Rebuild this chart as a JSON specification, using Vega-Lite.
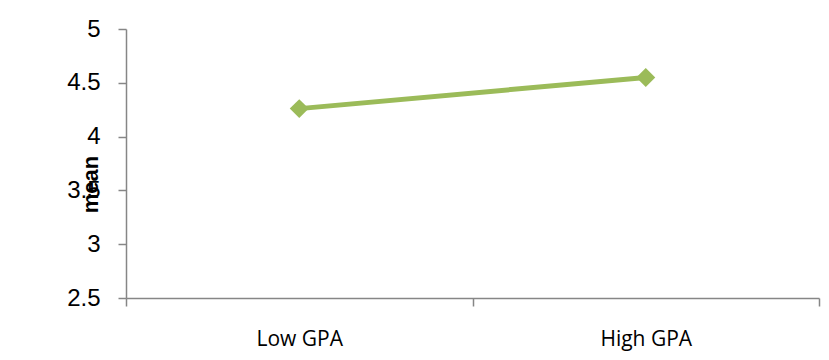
{
  "$schema": "https://vega.github.io/schema/vega-lite/v6.json",
  "width": 693,
  "height": 269,
  "autosize": "none",
  "padding": {"left": 126, "top": 29, "right": 10, "bottom": 62},
  "background": "white",
  "config": {"view": {"stroke": null}},
  "data": {"values": [
    {"group": "Low GPA", "mean": 4.26},
    {"group": "High GPA", "mean": 4.55}
  ]},
  "encoding": {
    "x": {
      "field": "group", "type": "nominal", "sort": ["Low GPA", "High GPA"],
      "scale": {"type": "band", "paddingInner": 0, "paddingOuter": 0},
      "axis": {
        "title": null, "labelAngle": 0, "tickBand": "extent",
        "domainColor": "#868686", "tickColor": "#868686", "domainWidth": 1.5, "tickWidth": 1.5,
        "tickSize": 8, "labelPadding": 22, "labelFont": "Open Sans", "labelFontSize": 21,
        "labelColor": "#000000", "grid": false
      }
    },
    "y": {
      "field": "mean", "type": "quantitative",
      "scale": {"domain": [2.5, 5], "nice": false, "zero": false},
      "axis": {
        "values": [2.5, 3, 3.5, 4, 4.5, 5], "format": "~g",
        "title": "mean", "titleFont": "Liberation Sans", "titleFontSize": 22, "titleFontWeight": "bold",
        "titleColor": "#000000", "titleX": -29, "titleY": 155, "titleBaseline": "alphabetic", "titleAlign": "center", "titleAngle": -90,
        "domainColor": "#868686", "tickColor": "#868686", "domainWidth": 1.5, "tickWidth": 1.5,
        "tickSize": 8, "labelPadding": 18, "labelFont": "Liberation Sans", "labelFontSize": 24,
        "labelColor": "#000000", "grid": false
      }
    }
  },
  "layer": [
    {"mark": {"type": "line", "color": "#9BBB59", "strokeWidth": 5}},
    {"mark": {"type": "point", "shape": "diamond", "filled": true, "color": "#9BBB59", "size": 360, "opacity": 1}}
  ]
}
